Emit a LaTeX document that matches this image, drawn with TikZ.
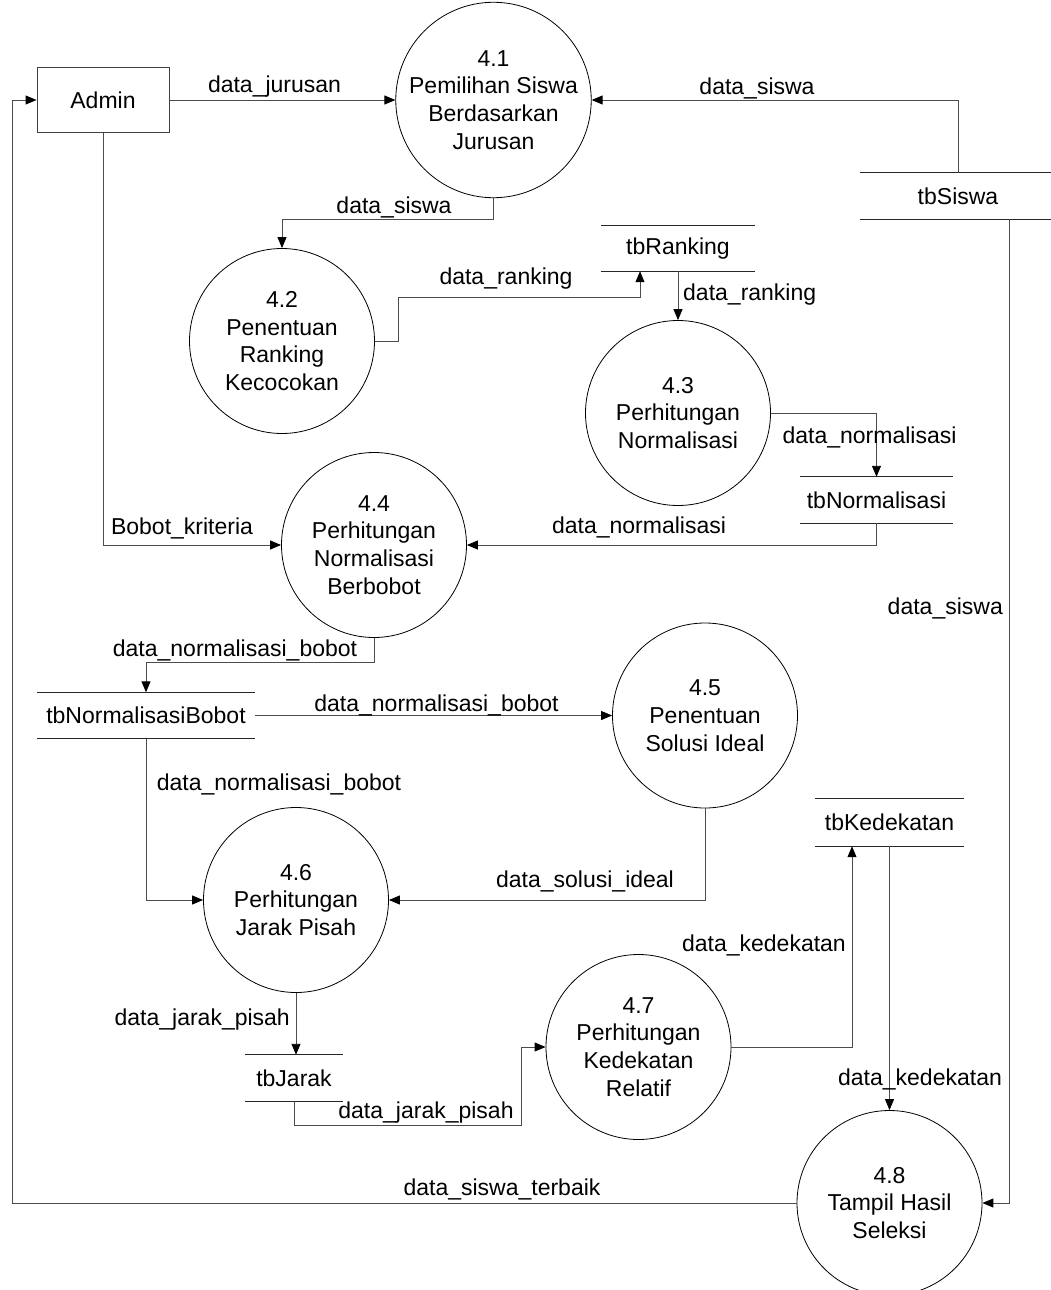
\documentclass[tikz,border=0pt]{standalone}
\usepackage{fontspec}
\setmainfont{Liberation Sans}
\usetikzlibrary{arrows.meta}
\begin{document}
\begin{tikzpicture}[x=1pt,y=-1pt,
  txt/.style={font=\fontsize{23}{27.8}\selectfont},
  proc/.style={circle,draw=black,line width=0.8pt,minimum size=185pt,inner sep=0pt,align=center,txt},
  entity/.style={rectangle,draw=black!75,line width=0.9pt,minimum width=132pt,minimum height=65pt,inner sep=0pt,txt},
  store/.style={rectangle,inner sep=0pt,txt},
  storeline/.style={draw=black!85,line width=0.9pt},
  flow/.style={draw=black!70,line width=0.9pt,-{Triangle[length=11pt,width=9pt,color=black]}},
  lbl/.style={inner sep=0pt,txt}]
\useasboundingbox (0,0) rectangle (1051,1290);

% external entity
\node[entity] (admin) at (103,100) {Admin};

% processes
\node[proc] (p41) at (493.5,100)  {4.1\\Pemilihan Siswa\\Berdasarkan\\Jurusan};
\node[proc] (p42) at (282,341)    {4.2\\Penentuan\\Ranking\\Kecocokan};
\node[proc] (p43) at (678,413)    {4.3\\Perhitungan\\Normalisasi};
\node[proc] (p44) at (374,545)    {4.4\\Perhitungan\\Normalisasi\\Berbobot};
\node[proc] (p45) at (705,715.5)  {4.5\\Penentuan\\Solusi Ideal};
\node[proc] (p46) at (296,900)    {4.6\\Perhitungan\\Jarak Pisah};
\node[proc] (p47) at (638.5,1047) {4.7\\Perhitungan\\Kedekatan\\Relatif};
\node[proc] (p48) at (889.5,1203) {4.8\\Tampil Hasil\\Seleksi};

% data stores
\node[store,minimum width=196pt,minimum height=46pt] (tbsiswa) at (958,196)    {tbSiswa};
\node[store,minimum width=154pt,minimum height=45pt] (tbrank)  at (678,248.5)  {tbRanking};
\node[store,minimum width=153pt,minimum height=46pt] (tbnorm)  at (876.5,500)  {tbNormalisasi};
\node[store,minimum width=218pt,minimum height=46pt] (tbnb)    at (146,715.5)  {tbNormalisasiBobot};
\node[store,minimum width=149pt,minimum height=47pt] (tbked)   at (889.5,822.5){tbKedekatan};
\node[store,minimum width=98pt, minimum height=46pt] (tbjarak) at (294,1078)   {tbJarak};
\foreach \s in {tbsiswa,tbrank,tbnorm,tbnb,tbked,tbjarak}{
  \draw[storeline] (\s.north west) -- (\s.north east) (\s.south west) -- (\s.south east);
}

% bend points
\coordinate (j4a) at (398,297);
\coordinate (j4b) at (640,297);
\coordinate (j14) at (521,1125);
\coordinate (j15) at (852,0);
\coordinate (j17) at (1009,0);
\coordinate (j18) at (12,0);

% data flows
\draw[flow] (admin.east) -- (p41.west);
\draw[flow] (tbsiswa.north) |- (p41.east);
\draw[flow] (p41.south) -- ++(0,21.5) -| (p42.north);
\draw[flow] (p42.east) -| (j4a) -- (j4b) -- (j4b |- tbrank.south);
\draw[flow] (tbrank.south) -- (p43.north);
\draw[flow] (p43.east) -| (tbnorm.north);
\draw[flow] (tbnorm.south) |- (p44.east);
\draw[flow] (admin.south) |- (p44.west);
\draw[flow] (p44.south) -- ++(0,24.5) -| (tbnb.north);
\draw[flow] (tbnb.east) -- (p45.west);
\draw[flow] (tbnb.south) |- (p46.west);
\draw[flow] (p45.south) |- (p46.east);
\draw[flow] (p46.south) -- (p46.south |- tbjarak.north);
\draw[flow] (tbjarak.south) |- (j14) |- (p47.west);
\draw[flow] (p47.east) -| (j15 |- tbked.south);
\draw[flow] (tbked.south) -- (p48.north);
\draw[flow] (j17 |- tbsiswa.south) |- (p48.east);
\draw[flow] (p48.west) -| (j18 |- admin.west) -- (admin.west);

% flow labels
\node[lbl] (l1)  at (274.5,87)  {data\_jurusan};
\node[lbl] (l2)  at (757,88)    {data\_siswa};
\node[lbl] (l3)  at (394,207)   {data\_siswa};
\node[lbl] (l4)  at (506,279)   {data\_ranking};
\node[lbl,anchor=west] (l5) at (683,295) {data\_ranking};
\node[lbl] (l6)  at (869.5,437) {data\_normalisasi};
\node[lbl] (l7)  at (639,527)   {data\_normalisasi};
\node[lbl] (l8)  at (182,528)   {Bobot\_kriteria};
\node[lbl] (l9)  at (235,650)   {data\_normalisasi\_bobot};
\node[lbl] (l10) at (436.5,705) {data\_normalisasi\_bobot};
\node[lbl] (l11) at (279,784)   {data\_normalisasi\_bobot};
\node[lbl] (l12) at (585,881)   {data\_solusi\_ideal};
\node[lbl,anchor=east] (l13) at (290,1020) {data\_jarak\_pisah};
\node[lbl] (l14) at (426,1113)  {data\_jarak\_pisah};
\node[lbl,anchor=east] (l15) at (846,945) {data\_kedekatan};
\node[lbl] (l16) at (920,1079)  {data\_kedekatan};
\node[lbl,anchor=east] (l17) at (1003,608) {data\_siswa};
\node[lbl] (l18) at (502,1189)  {data\_siswa\_terbaik};
\end{tikzpicture}
\end{document}
